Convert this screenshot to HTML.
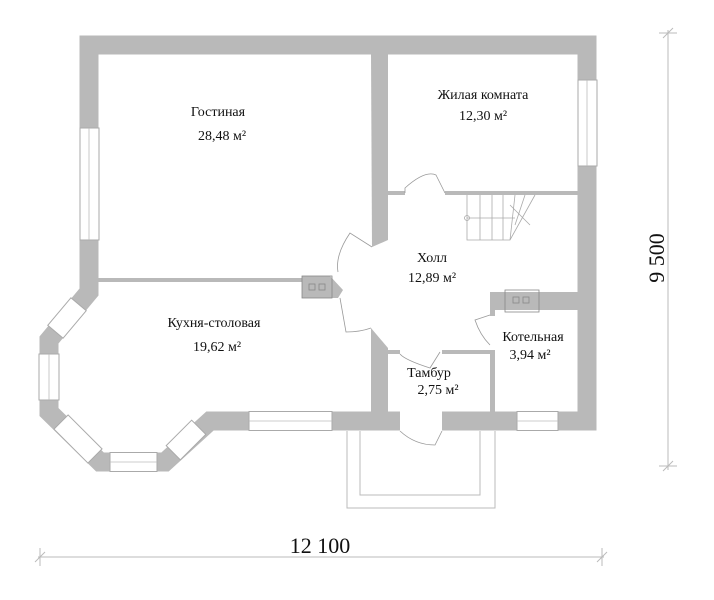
<!DOCTYPE html>
<html><head><meta charset="utf-8"><style>
html,body{margin:0;padding:0;background:#fff;}
svg{display:block;}
text{font-family:"Liberation Serif",serif;fill:#111;}
</style></head><body>
<svg width="714" height="600" viewBox="0 0 714 600" xmlns="http://www.w3.org/2000/svg">
<polygon points="89,45 587,45 587,421 210,421 165,462 100,462 49,412 49,340 89,292" fill="none" stroke="#b9b9b9" stroke-width="19" stroke-linejoin="miter"/>
<g fill="#fff" stroke="#aaa" stroke-width="1">
<rect x="80" y="128" width="19" height="112"/>
<rect x="578" y="80" width="19" height="86"/>
<rect x="249" y="411.5" width="83" height="19"/>
<rect x="517" y="411.5" width="41" height="19"/>
<rect x="39" y="354" width="20" height="46"/>
<rect x="110" y="452.5" width="47" height="19"/>
<rect x="-24" y="-10" width="48" height="20" transform="translate(78,439) rotate(45)"/>
<rect x="-18" y="-10" width="36" height="20" transform="translate(67,318) rotate(-50)"/>
<rect x="-18" y="-10" width="36" height="20" transform="translate(186,440) rotate(-45)"/>
</g>
<g stroke="#bbb" stroke-width="0.8">
<line x1="89" y1="128" x2="89" y2="240"/><line x1="587" y1="80" x2="587" y2="166"/>
<line x1="249" y1="421" x2="332" y2="421"/><line x1="517" y1="421" x2="558" y2="421"/>
<line x1="49" y1="354" x2="49" y2="400"/><line x1="110" y1="462" x2="157" y2="462"/>
</g>
<rect x="400" y="411" width="42" height="20" fill="#fff"/>
<g fill="#b9b9b9">
<polygon points="371,54 388,54 388,240 372,247"/>
<rect x="388" y="191" width="17" height="4"/>
<rect x="445" y="191" width="133" height="4"/>
<rect x="98" y="278" width="204" height="4"/>
<polygon points="371,328 388,348 388,412 371,412"/>
<rect x="388" y="350" width="12" height="4"/>
<rect x="442" y="350" width="50" height="4"/>
<rect x="490" y="350" width="5" height="62"/>
<rect x="490" y="292" width="88" height="18"/>
<rect x="490" y="292" width="5" height="24"/>
<polygon points="302,276 330,276 343,290 338,298 302,298"/>
</g>
<g fill="none" stroke="#888" stroke-width="0.8">
<rect x="302" y="276" width="30" height="22"/>
<rect x="309" y="284" width="6" height="6"/><rect x="319" y="284" width="6" height="6"/>
<rect x="505" y="290" width="34" height="22"/>
<rect x="513" y="297" width="6" height="6"/><rect x="523" y="297" width="6" height="6"/>
</g>
<g fill="none" stroke="#999" stroke-width="0.8">
<path d="M405,193 L405,188 Q425,170 436,175 L445,193"/>
<path d="M372,247 L350,233 Q335,255 338,272"/>
<path d="M340,298 L346,332 Q360,332 371,328"/>
<path d="M400,354 Q405,360 430,368 L440,352"/>
<path d="M490,315 L475,320 Q480,335 490,345"/>
<path d="M400,431 Q415,445 435,445 L442,431"/>
</g>
<g fill="none" stroke="#aaa" stroke-width="0.8">
<path d="M467,195 L467,240 L510,240 L535,195"/>
<line x1="480" y1="195" x2="480" y2="240"/><line x1="492" y1="195" x2="492" y2="240"/>
<line x1="503" y1="195" x2="503" y2="240"/><line x1="515" y1="195" x2="510" y2="240"/>
<line x1="525" y1="195" x2="515" y2="225"/><line x1="467" y1="218" x2="515" y2="218"/>
<line x1="510" y1="205" x2="530" y2="225"/>
<circle cx="467" cy="218" r="2.5"/>
</g>
<g fill="none" stroke="#bbb" stroke-width="1">
<path d="M347,431 L347,508 L495,508 L495,431"/>
<path d="M360,431 L360,495 L480,495 L480,431"/>
</g>
<g font-size="14" text-anchor="middle">
<text x="218" y="116">Гостиная</text>
<text x="222" y="140">28,48 м²</text>
<text x="483" y="99">Жилая комната</text>
<text x="483" y="120">12,30 м²</text>
<text x="432" y="262">Холл</text>
<text x="432" y="282">12,89 м²</text>
<text x="214" y="327">Кухня-столовая</text>
<text x="217" y="351">19,62 м²</text>
<text x="533" y="341">Котельная</text>
<text x="530" y="359">3,94 м²</text>
<text x="429" y="377">Тамбур</text>
<text x="438" y="394">2,75 м²</text>
</g>
<g stroke="#bbb" stroke-width="1">
<line x1="38" y1="557" x2="604" y2="557"/>
<line x1="40" y1="548" x2="40" y2="566"/><line x1="35" y1="562" x2="45" y2="552"/>
<line x1="602" y1="548" x2="602" y2="566"/><line x1="597" y1="562" x2="607" y2="552"/>
<line x1="668" y1="30" x2="668" y2="470"/>
<line x1="659" y1="33" x2="677" y2="33"/><line x1="663" y1="38" x2="673" y2="28"/>
<line x1="659" y1="466" x2="677" y2="466"/><line x1="663" y1="471" x2="673" y2="461"/>
</g>
<text x="320" y="553" font-size="22" text-anchor="middle">12 100</text>
<text x="0" y="0" font-size="22" text-anchor="middle" transform="translate(664,258) rotate(-90)">9 500</text>
</svg>
</body></html>
